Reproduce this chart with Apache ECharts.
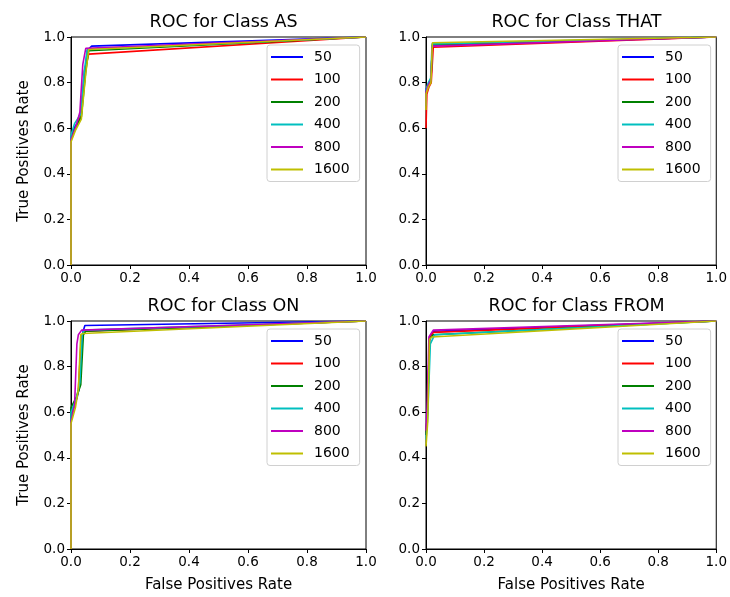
<!DOCTYPE html>
<html>
<head>
<meta charset="utf-8">
<script src="https://cdn.jsdelivr.net/npm/echarts@6/dist/echarts.min.js"></script>
<style>html,body{margin:0;padding:0;background:#fff}#c{width:730px;height:597px}</style>
</head>
<body>
<div id="c"></div>
<script>
// ---- data ----
const classNames = ['AS', 'THAT', 'ON', 'FROM'];
const seriesNames = ['50', '100', '200', '400', '800', '1600'];
const xTicks = [0, 0.2, 0.4, 0.6, 0.8, 1.0];
const yTicks = [0, 0.2, 0.4, 0.6, 0.8, 1.0];

// each entry: [fpr, tpr] points, one list per series in seriesNames order
const curvesAS = [
  [[0,0],[0,0.56],[0.01,0.6],[0.03,0.64],[0.045,0.8],[0.055,0.94],[0.07,0.96],[1,1]],
  [[0,0],[0,0.55],[0.015,0.6],[0.035,0.66],[0.045,0.85],[0.06,0.925],[1,1]],
  [[0,0],[0,0.55],[0.015,0.6],[0.035,0.65],[0.05,0.85],[0.06,0.94],[1,1]],
  [[0,0],[0,0.57],[0.012,0.62],[0.032,0.66],[0.045,0.85],[0.055,0.945],[1,1]],
  [[0,0],[0,0.55],[0.015,0.6],[0.03,0.67],[0.04,0.88],[0.05,0.95],[1,1]],
  [[0,0],[0,0.54],[0.015,0.59],[0.035,0.64],[0.05,0.84],[0.06,0.945],[1,1]]
];
const curvesTHAT = [
  [[0,0.7],[0,0.77],[0.008,0.79],[0.017,0.81],[0.022,0.965],[1,1]],
  [[0,0.6],[0.003,0.75],[0.01,0.78],[0.018,0.8],[0.025,0.955],[1,1]],
  [[0,0.7],[0,0.76],[0.008,0.79],[0.017,0.81],[0.022,0.965],[1,1]],
  [[0,0.7],[0,0.77],[0.008,0.8],[0.016,0.82],[0.021,0.97],[1,1]],
  [[0,0.7],[0,0.76],[0.008,0.79],[0.017,0.81],[0.022,0.96],[1,1]],
  [[0,0.68],[0,0.75],[0.008,0.78],[0.017,0.8],[0.022,0.975],[1,1]]
];
const curvesON = [
  [[0,0],[0,0.6],[0.02,0.66],[0.03,0.72],[0.04,0.95],[0.047,0.98],[1,1]],
  [[0,0],[0,0.58],[0.015,0.64],[0.025,0.7],[0.035,0.93],[0.045,0.955],[1,1]],
  [[0,0],[0,0.62],[0.02,0.67],[0.033,0.72],[0.042,0.94],[0.05,0.955],[1,1]],
  [[0,0],[0,0.6],[0.018,0.66],[0.03,0.73],[0.038,0.94],[0.045,0.96],[1,1]],
  [[0,0],[0,0.56],[0.012,0.63],[0.02,0.9],[0.025,0.94],[0.036,0.96],[1,1]],
  [[0,0],[0,0.55],[0.015,0.62],[0.025,0.7],[0.033,0.94],[0.04,0.945],[1,1]]
];
const curvesFROM = [
  [[0,0.5],[0.005,0.6],[0.012,0.92],[0.025,0.955],[1,1]],
  [[0,0.5],[0.005,0.6],[0.012,0.92],[0.025,0.95],[1,1]],
  [[0,0.5],[0.005,0.6],[0.012,0.92],[0.025,0.94],[1,1]],
  [[0,0.48],[0.006,0.58],[0.015,0.9],[0.03,0.94],[1,1]],
  [[0,0.52],[0.004,0.62],[0.01,0.93],[0.025,0.96],[1,1]],
  [[0,0.45],[0.006,0.56],[0.012,0.92],[0.02,0.93],[1,1]]
];
const allCurves = [curvesAS, curvesTHAT, curvesON, curvesFROM];

// ---- styling / layout ----
const colors = ['#0000ff', '#ff0000', '#008000', '#00bfbf', '#bf00bf', '#bfbf00'];
const font = 'DejaVu Sans';
const grids = [
  {left: 71, top: 37, width: 295, height: 228},
  {left: 426, top: 37, width: 291, height: 228},
  {left: 71, top: 321, width: 295, height: 228},
  {left: 426, top: 321, width: 291, height: 228}
];

const option = {
  animation: false,
  backgroundColor: '#fff',
  textStyle: {fontFamily: font},
  title: [], grid: [], xAxis: [], yAxis: [], legend: [], series: []
};

grids.forEach((g, i) => {
  option.grid.push(Object.assign({show: true, borderColor: '#000', borderWidth: 1, backgroundColor: 'transparent'}, g));
  option.title.push({
    text: 'ROC for Class ' + classNames[i],
    left: g.left + g.width / 2, top: g.top - 29, textAlign: 'center',
    textStyle: {fontFamily: font, fontSize: 17.5, fontWeight: 'normal', color: '#000'}
  });
  const axisCommon = {
    min: 0, max: 1, interval: 0.2,
    axisLine: {show: true, onZero: false, lineStyle: {color: '#000', width: 1}},
    axisTick: {show: true, inside: false, length: 4, lineStyle: {color: '#000'}},
    splitLine: {show: false},
    axisLabel: {color: '#000', fontFamily: font, fontSize: 13.5, formatter: v => v.toFixed(1)},
    nameTextStyle: {color: '#000', fontFamily: font, fontSize: 15}
  };
  option.xAxis.push(Object.assign({}, axisCommon, {
    type: 'value', gridIndex: i,
    axisLabel: Object.assign({}, axisCommon.axisLabel, {margin: 6}),
    name: i >= 2 ? 'False Positives Rate' : '', nameLocation: 'middle', nameGap: 29
  }));
  option.yAxis.push(Object.assign({}, axisCommon, {
    type: 'value', gridIndex: i,
    axisLabel: Object.assign({}, axisCommon.axisLabel, {margin: 6}),
    name: (i % 2 === 0) ? 'True Positives Rate' : '', nameLocation: 'middle', nameGap: 39
  }));
  option.legend.push({
    data: seriesNames.map(n => ({name: n})),
    orient: 'vertical',
    left: g.left + g.width - 99, top: g.top + 8,
    width: 90,
    icon: 'rect', itemWidth: 32, itemHeight: 2, itemGap: 8.5,
    padding: [5, 10, 5, 4],
    backgroundColor: 'rgba(255,255,255,0.8)',
    borderColor: '#d0d0d0', borderWidth: 1, borderRadius: 3,
    textStyle: {fontFamily: font, fontSize: 14, color: '#000', padding: [0, 0, 0, 6]},
    selectedMode: false
  });
  allCurves[i].forEach((pts, s) => {
    option.series.push({
      type: 'line', name: seriesNames[s], xAxisIndex: i, yAxisIndex: i,
      data: pts, symbol: 'none', showSymbol: false,
      lineStyle: {color: colors[s], width: 1.6},
      itemStyle: {color: colors[s]},
      z: 2 + s
    });
  });
});

const chart = echarts.init(document.getElementById('c'), null, {renderer: 'canvas'});
chart.setOption(option);
</script>
</body>
</html>
